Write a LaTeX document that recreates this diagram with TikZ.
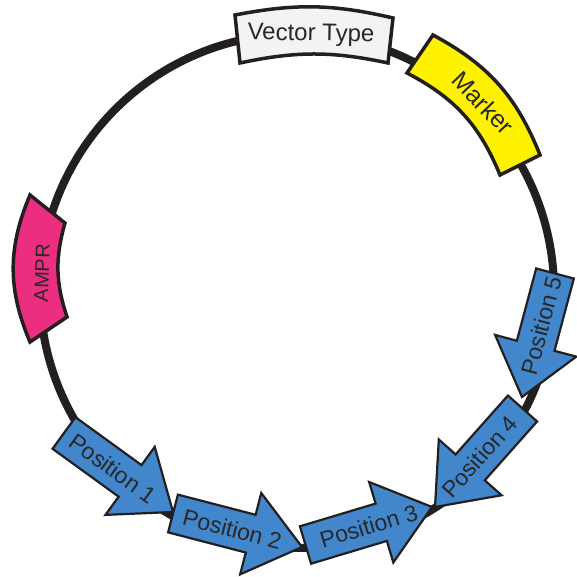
\documentclass[tikz,border=0pt]{standalone}
\usepackage{fontspec}
\setmainfont{Liberation Sans}
\usetikzlibrary{calc}
\definecolor{ringcol}{RGB}{35,31,32}
\definecolor{textcol}{RGB}{40,40,40}
\definecolor{posblue}{RGB}{66,135,204}
\definecolor{markyellow}{RGB}{255,242,0}
\definecolor{amppink}{RGB}{236,46,128}
\definecolor{vtgray}{RGB}{243,243,243}
\tikzset{
  ring/.style={draw=ringcol, line width=8pt},
  featbox/.style={draw=ringcol, line width=3.5pt, line join=miter},
  arrowbox/.style={draw=ringcol, line width=2.2pt, fill=posblue, line join=miter},
  feattext/.style={text=textcol, inner sep=0pt},
  postext/.style={text=textcol, font=\fontsize{23}{27}\selectfont, inner sep=0pt},
}
\newcommand\posarrow[5]{%
  \coordinate (#1t) at (#2);
  \coordinate (#1h) at (#3);
  \coordinate (#1b) at ($(#1h)!53pt!(#1t)$);
  \draw[arrowbox] ($(#1t)!19.5pt!90:(#1h)$) -- ($(#1b)!19.5pt!90:(#1h)$) -- ($(#1b)!42pt!90:(#1h)$) -- (#1h) -- ($(#1b)!42pt!-90:(#1h)$) -- ($(#1b)!19.5pt!-90:(#1h)$) -- ($(#1t)!19.5pt!-90:(#1h)$) -- cycle;
  \path (#1t) -- (#1h) node[postext, sloped, pos=#5] (#1) {#4};
}
\begin{document}
\begin{tikzpicture}[x=1pt, y=1pt]
\useasboundingbox (0,0) rectangle (576,577);
\coordinate (c) at (297,286);
\draw[ring] (c) circle[radius=257];

% Vector Type
\coordinate (vtol) at (235,562);
\coordinate (vtor) at (393,559);
\coordinate (vtir) at (388,514);
\coordinate (vtil) at (240,514);
\draw[featbox, fill=vtgray] (vtol) to[bend left=12] (vtor) -- (vtir) to[bend right=12] (vtil) -- cycle;
\node[feattext, font=\fontsize{24}{28}\selectfont, rotate=-1] (vt) at (311,542) {Vector Type};

% Marker
\coordinate (mkol) at (433,542);
\coordinate (mkor) at (540,422);
\coordinate (mkir) at (500,402);
\coordinate (mkil) at (407,504);
\draw[featbox, fill=markyellow] (mkol) to[bend left=20] (mkor) -- (mkir) to[bend right=20] (mkil) -- cycle;
\node[feattext, font=\fontsize{24.5}{28}\selectfont, rotate=-46] (mk) at (483,474) {Marker};

% AMPR
\coordinate (apob) at (30,235);
\coordinate (apot) at (30,382);
\coordinate (apit) at (65,354);
\coordinate (apib) at (67,260);
\draw[featbox, fill=amppink] (apob) to[bend left=23] (apot) -- (apit) to[bend right=17] (apib) -- cycle;
\node[feattext, font=\fontsize{20}{24}\selectfont, rotate=88] (ap) at (42,304) {AMPR};

% Positions
\posarrow{p1}{64,144}{173,65}{Position 1}{0.45}
\posarrow{p2}{173,63.5}{302,30}{Position 2}{0.46}
\posarrow{p3}{305.5,32}{432,70}{Position 3}{0.5}
\posarrow{p4}{522.5,168.5}{435,70}{Position 4}{0.49}
\posarrow{p5}{555,303.5}{522,180}{Position 5}{0.42}
\end{tikzpicture}
\end{document}
